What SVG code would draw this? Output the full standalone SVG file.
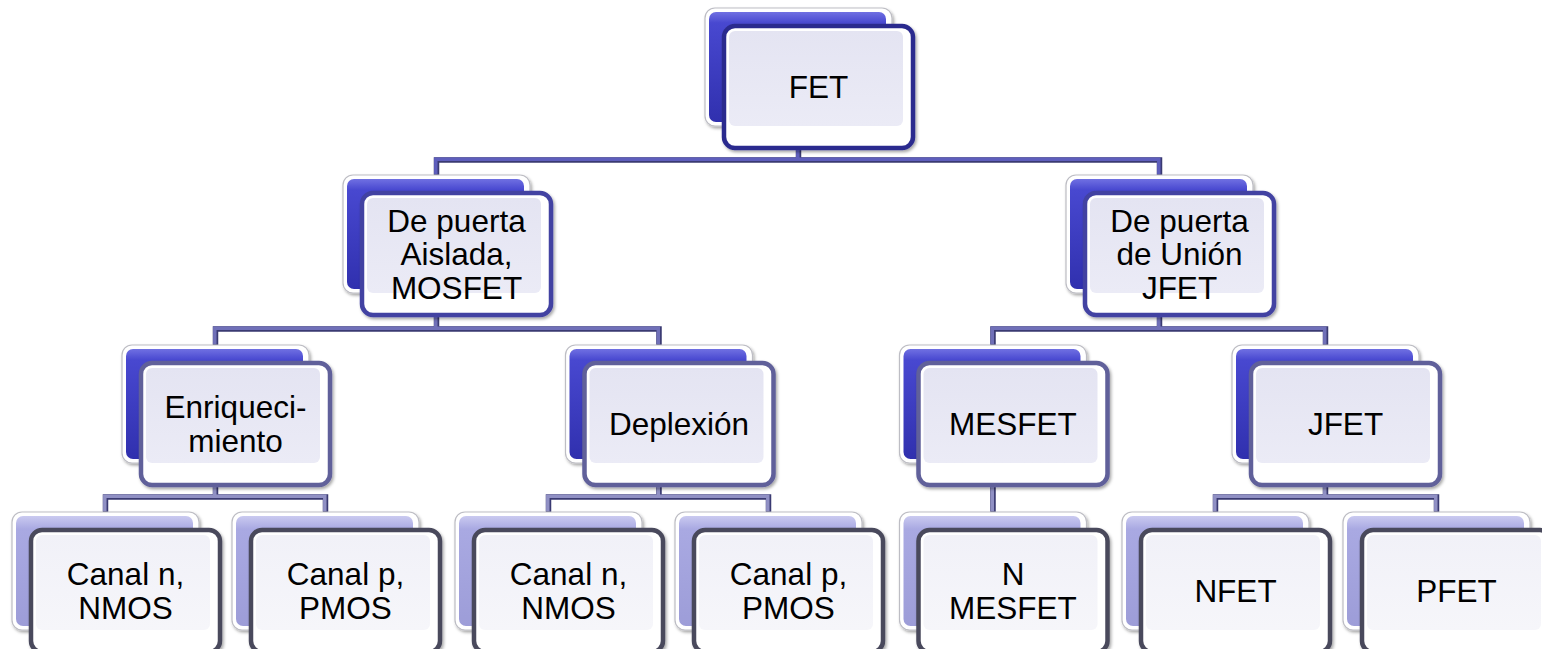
<svg xmlns="http://www.w3.org/2000/svg" xmlns:xlink="http://www.w3.org/1999/xlink" width="1542" height="649" viewBox="0 0 1542 649">
<style>
.t{font-family:"Liberation Sans",Arial,sans-serif;font-size:31.5px;fill:#000;text-anchor:middle}
.rim{fill:#fff;stroke:#bdbdc4;stroke-width:1.2}
.bb{fill:url(#gBlue)}
.bl{fill:url(#gLav)}
.fr{fill:#fff;stroke-width:4.5}
.f1{stroke:#2c2c8e}
.f2{stroke:#4242a2}
.f3{stroke:#60609a}
.f4{stroke:#4a4a5c}
.hl{fill:none;stroke:#fff;stroke-opacity:0.55;stroke-width:1.2}
.pn{fill:url(#gPanel)}
.pn4{fill:url(#gPanel4)}
.cs{fill:none;stroke:#3a3a72;stroke-width:5.5}
.c1{fill:none;stroke:#5e5ebc;stroke-width:3.5}
.c2{fill:none;stroke:#7070b8;stroke-width:3.5}
.c3{fill:none;stroke:#9090c4;stroke-width:3.5}
</style>
<defs>
<linearGradient id="gBlue" x1="0" y1="0" x2="0" y2="1">
<stop offset="0" stop-color="#7070e2"/>
<stop offset="0.1" stop-color="#4848d0"/>
<stop offset="1" stop-color="#3030ae"/>
</linearGradient>
<linearGradient id="gLav" x1="0" y1="0" x2="0" y2="1">
<stop offset="0" stop-color="#cacaf0"/>
<stop offset="0.12" stop-color="#a9a9e2"/>
<stop offset="1" stop-color="#9d9dd8"/>
</linearGradient>
<linearGradient id="gPanel" x1="0" y1="0" x2="0" y2="1">
<stop offset="0" stop-color="#e4e4f2"/>
<stop offset="1" stop-color="#ebebf6"/>
</linearGradient>
<linearGradient id="gPanel4" x1="0" y1="0" x2="0" y2="1">
<stop offset="0" stop-color="#f1f1f8"/>
<stop offset="1" stop-color="#f6f6fa"/>
</linearGradient>
<filter id="sh" x="-10%" y="-10%" width="125%" height="130%">
<feDropShadow dx="1.5" dy="2" stdDeviation="1.5" flood-color="#000" flood-opacity="0.35"/>
</filter>
<path id="p1" d="M436.5 175 V160 H1159.5 V175 M798.5 126 V160"/>
<path id="p2" d="M215.5 345 V329 H659 V345 M436.5 293 V329 M993 345 V329 H1325.5 V345 M1159.5 293 V329"/>
<path id="p3" d="M105.5 512 V497 H325.5 V512 M215.5 463 V497 M548.5 512 V497 H768.5 V512 M659 463 V497 M993 463 V512 M1215.5 512 V497 H1436.5 V512 M1325.5 463 V497"/>
</defs>
<rect width="1542" height="649" fill="#fff"/>

<g id="connectors">
<use xlink:href="#p1" class="cs"/>
<use xlink:href="#p1" class="c1" transform="translate(-0.7,-0.7)"/>
<use xlink:href="#p2" class="cs"/>
<use xlink:href="#p2" class="c2" transform="translate(-0.7,-0.7)"/>
<use xlink:href="#p3" class="cs"/>
<use xlink:href="#p3" class="c3" transform="translate(-0.7,-0.7)"/>
</g>

<g id="n-fet">
<rect class="rim" x="705" y="8" width="187" height="118" rx="10" filter="url(#sh)"/>
<rect class="bb" x="709" y="12" width="177" height="110" rx="7"/>
<rect class="fr f1" x="724" y="26" width="189" height="122" rx="11" filter="url(#sh)"/>
<rect class="pn" x="729" y="31" width="174" height="95" rx="6"/>
<text class="t" x="818.5" y="98">FET</text>
</g>

<g id="n-mosfet">
<rect class="rim" x="343" y="175" width="187" height="118" rx="10" filter="url(#sh)"/>
<rect class="bb" x="347" y="179" width="177" height="110" rx="7"/>
<rect class="fr f2" x="362" y="193" width="189" height="122" rx="11" filter="url(#sh)"/>
<rect class="pn" x="367" y="198" width="174" height="95" rx="6"/>
<text class="t" x="456.5" y="231.5">De puerta</text>
<text class="t" x="456.5" y="265">Aislada,</text>
<text class="t" x="456.5" y="298.5">MOSFET</text>
</g>

<g id="n-jfet-union">
<rect class="rim" x="1066" y="175" width="187" height="118" rx="10" filter="url(#sh)"/>
<rect class="bb" x="1070" y="179" width="177" height="110" rx="7"/>
<rect class="fr f2" x="1085" y="193" width="189" height="122" rx="11" filter="url(#sh)"/>
<rect class="pn" x="1090" y="198" width="174" height="95" rx="6"/>
<text class="t" x="1179.5" y="231.5">De puerta</text>
<text class="t" x="1179.5" y="265">de Unión</text>
<text class="t" x="1179.5" y="298.5">JFET</text>
</g>

<g id="n-enriq">
<rect class="rim" x="122" y="345" width="187" height="118" rx="10" filter="url(#sh)"/>
<rect class="bb" x="126" y="349" width="177" height="110" rx="7"/>
<rect class="fr f3" x="141" y="363" width="189" height="122" rx="11" filter="url(#sh)"/>
<rect class="pn" x="146" y="368" width="174" height="95" rx="6"/>
<text class="t" x="235.5" y="418">Enriqueci-</text>
<text class="t" x="235.5" y="451.5">miento</text>
</g>

<g id="n-deplexion">
<rect class="rim" x="565.5" y="345" width="187" height="118" rx="10" filter="url(#sh)"/>
<rect class="bb" x="569.5" y="349" width="177" height="110" rx="7"/>
<rect class="fr f3" x="584.5" y="363" width="189" height="122" rx="11" filter="url(#sh)"/>
<rect class="pn" x="589.5" y="368" width="174" height="95" rx="6"/>
<text class="t" x="679" y="435">Deplexión</text>
</g>

<g id="n-mesfet">
<rect class="rim" x="899.5" y="345" width="187" height="118" rx="10" filter="url(#sh)"/>
<rect class="bb" x="903.5" y="349" width="177" height="110" rx="7"/>
<rect class="fr f3" x="918.5" y="363" width="189" height="122" rx="11" filter="url(#sh)"/>
<rect class="pn" x="923.5" y="368" width="174" height="95" rx="6"/>
<text class="t" x="1013" y="435">MESFET</text>
</g>

<g id="n-jfet">
<rect class="rim" x="1232" y="345" width="187" height="118" rx="10" filter="url(#sh)"/>
<rect class="bb" x="1236" y="349" width="177" height="110" rx="7"/>
<rect class="fr f3" x="1251" y="363" width="189" height="122" rx="11" filter="url(#sh)"/>
<rect class="pn" x="1256" y="368" width="174" height="95" rx="6"/>
<text class="t" x="1345.5" y="435">JFET</text>
</g>

<g id="n-enr-nmos">
<rect class="rim" x="12" y="512" width="187" height="118" rx="10" filter="url(#sh)"/>
<rect class="bl" x="16" y="516" width="177" height="110" rx="7"/>
<rect class="fr f4" x="31" y="530" width="189" height="122" rx="11" filter="url(#sh)"/>
<rect class="pn4" x="36" y="535" width="174" height="95" rx="6"/>
<text class="t" x="125.5" y="585">Canal n,</text>
<text class="t" x="125.5" y="618.5">NMOS</text>
</g>

<g id="n-enr-pmos">
<rect class="rim" x="232" y="512" width="187" height="118" rx="10" filter="url(#sh)"/>
<rect class="bl" x="236" y="516" width="177" height="110" rx="7"/>
<rect class="fr f4" x="251" y="530" width="189" height="122" rx="11" filter="url(#sh)"/>
<rect class="pn4" x="256" y="535" width="174" height="95" rx="6"/>
<text class="t" x="345.5" y="585">Canal p,</text>
<text class="t" x="345.5" y="618.5">PMOS</text>
</g>

<g id="n-dep-nmos">
<rect class="rim" x="455" y="512" width="187" height="118" rx="10" filter="url(#sh)"/>
<rect class="bl" x="459" y="516" width="177" height="110" rx="7"/>
<rect class="fr f4" x="474" y="530" width="189" height="122" rx="11" filter="url(#sh)"/>
<rect class="pn4" x="479" y="535" width="174" height="95" rx="6"/>
<text class="t" x="568.5" y="585">Canal n,</text>
<text class="t" x="568.5" y="618.5">NMOS</text>
</g>

<g id="n-dep-pmos">
<rect class="rim" x="675" y="512" width="187" height="118" rx="10" filter="url(#sh)"/>
<rect class="bl" x="679" y="516" width="177" height="110" rx="7"/>
<rect class="fr f4" x="694" y="530" width="189" height="122" rx="11" filter="url(#sh)"/>
<rect class="pn4" x="699" y="535" width="174" height="95" rx="6"/>
<text class="t" x="788.5" y="585">Canal p,</text>
<text class="t" x="788.5" y="618.5">PMOS</text>
</g>

<g id="n-nmesfet">
<rect class="rim" x="899.5" y="512" width="187" height="118" rx="10" filter="url(#sh)"/>
<rect class="bl" x="903.5" y="516" width="177" height="110" rx="7"/>
<rect class="fr f4" x="918.5" y="530" width="189" height="122" rx="11" filter="url(#sh)"/>
<rect class="pn4" x="923.5" y="535" width="174" height="95" rx="6"/>
<text class="t" x="1013" y="585">N</text>
<text class="t" x="1013" y="618.5">MESFET</text>
</g>

<g id="n-nfet">
<rect class="rim" x="1122" y="512" width="187" height="118" rx="10" filter="url(#sh)"/>
<rect class="bl" x="1126" y="516" width="177" height="110" rx="7"/>
<rect class="fr f4" x="1141" y="530" width="189" height="122" rx="11" filter="url(#sh)"/>
<rect class="pn4" x="1146" y="535" width="174" height="95" rx="6"/>
<text class="t" x="1235.5" y="602">NFET</text>
</g>

<g id="n-pfet">
<rect class="rim" x="1343" y="512" width="187" height="118" rx="10" filter="url(#sh)"/>
<rect class="bl" x="1347" y="516" width="177" height="110" rx="7"/>
<rect class="fr f4" x="1362" y="530" width="189" height="122" rx="11" filter="url(#sh)"/>
<rect class="pn4" x="1367" y="535" width="174" height="95" rx="6"/>
<text class="t" x="1456.5" y="602">PFET</text>
</g>
</svg>
